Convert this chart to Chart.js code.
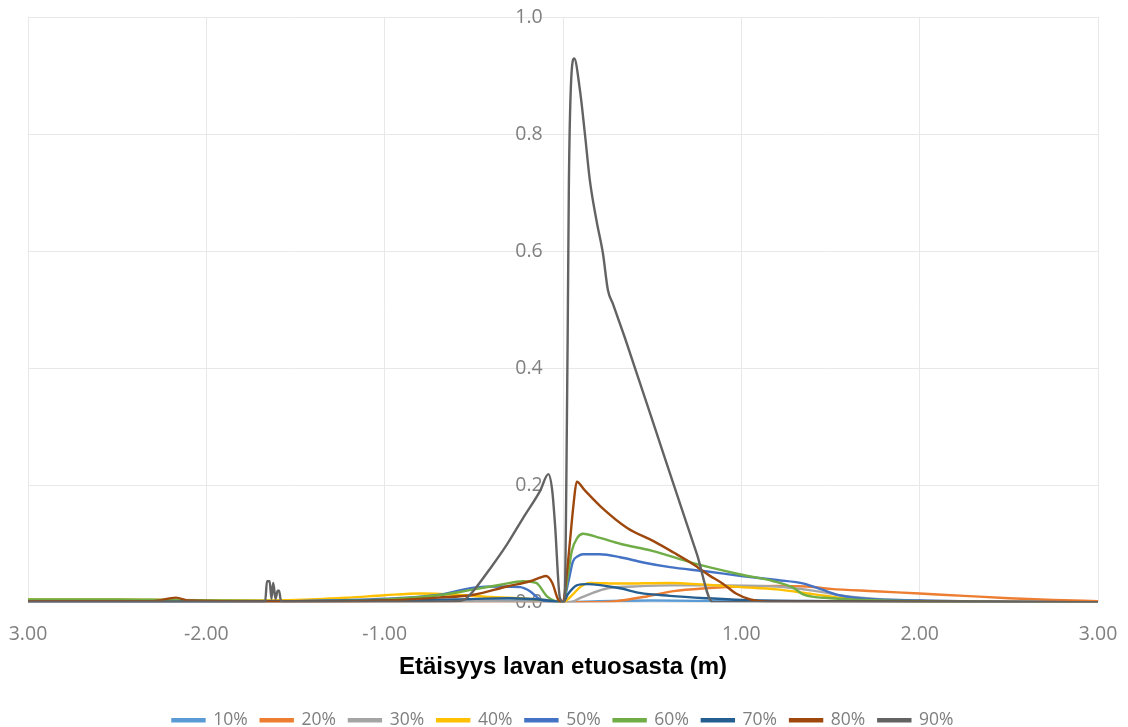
<!DOCTYPE html>
<html>
<head>
<meta charset="utf-8">
<script src="https://cdn.jsdelivr.net/npm/chart.js@4/dist/chart.umd.min.js"></script>
<style>
  html, body { margin: 0; padding: 0; background: #ffffff; overflow: hidden; width: 1128px; height: 727px; }
  #wrap { position: absolute; left: 0; top: 0; width: 1128px; height: 739px; }
</style>
</head>
<body>
<div id="wrap"><canvas id="c"></canvas></div>
<script>
// ---- data ----
const seriesNames = ['10%', '20%', '30%', '40%', '50%', '60%', '70%', '80%', '90%'];
const seriesColors = ['#5B9BD5', '#ED7D31', '#A5A5A5', '#FFC000', '#4472C4', '#70AD47', '#255E91', '#9E480E', '#636363'];
const xTickValues = [-3, -2, -1, 0, 1, 2, 3];
const xTickLabels = ['3.00', '-2.00', '-1.00', '', '1.00', '2.00', '3.00'];
const yTickLabels = ['0.0', '0.2', '0.4', '0.6', '0.8', '1.0'];
const xAxisTitle = 'Etäisyys lavan etuosasta (m)';

const x10 = [-3, -2.5, -2.2, -1.5, -1.0, -0.5, -0.2, 0, 0.2, 0.5, 1.0, 1.5, 2.0, 2.5, 3.0];
const y10 = [0.002, 0.002, 0.001, 0.001, 0.001, 0.002, 0.003, 0, 0.002, 0.003, 0.002, 0.002, 0.001, 0.001, 0.001];

const x20 = [-3, -2.5, -2.1, -1.7, -1.0, -0.5, 0, 0.2, 0.3, 0.45, 0.62, 0.8, 1.0, 1.2, 1.37, 1.5, 1.75, 2.0, 2.25, 2.5, 2.75, 3.0];
const y20 = [0.001, 0.001, 0.0, 0.0, 0.001, 0.001, 0, 0, 0.002, 0.009, 0.019, 0.024, 0.027, 0.028, 0.027, 0.023, 0.019, 0.015, 0.011, 0.007, 0.004, 0.002];

const x30 = [-3, -2.5, -2.2, -1.5, -1.0, -0.5, 0, 0.05, 0.095, 0.15, 0.25, 0.4, 0.6, 0.9, 1.2, 1.4, 1.6, 1.8, 2.0, 2.5, 3.0];
const y30 = [0.004, 0.004, 0.004, 0.002, 0.002, 0.002, 0, 0.001, 0.007, 0.014, 0.024, 0.027, 0.029, 0.029, 0.027, 0.02, 0.01, 0.005, 0.003, 0.001, 0.0];

const x40 = [-3, -2.5, -2.0, -1.5, -1.2, -1.0, -0.8, -0.6, -0.4, -0.2, -0.05, 0, 0.05, 0.1, 0.151, 0.32, 0.6, 0.8, 1.0, 1.2, 1.4, 1.6, 1.8, 2.0, 3.0];
const y40 = [0.005, 0.005, 0.003, 0.004, 0.008, 0.012, 0.015, 0.013, 0.009, 0.006, 0.002, 0, 0.012, 0.027, 0.033, 0.032, 0.033, 0.03, 0.026, 0.022, 0.014, 0.006, 0.002, 0.001, 0];

const x50 = [-3, -2, -1.5, -1.0, -0.69, -0.5, -0.35, -0.24, -0.185, -0.129, -0.06, 0, 0.03, 0.056, 0.085, 0.112, 0.207, 0.32, 0.45, 0.6, 0.8, 1.0, 1.2, 1.35, 1.45, 1.55, 1.7, 2.0, 2.5, 3.0];
const y50 = [0.001, 0.001, 0.002, 0.006, 0.013, 0.025, 0.027, 0.026, 0.019, 0.005, 0.001, 0, 0.035, 0.07, 0.079, 0.082, 0.082, 0.077, 0.068, 0.06, 0.053, 0.045, 0.038, 0.032, 0.022, 0.012, 0.006, 0.003, 0.001, 0];

const x60 = [-3, -2.5, -2.2, -1.5, -1.0, -0.7, -0.5, -0.35, -0.224, -0.15, -0.09, -0.05, 0, 0.025, 0.049, 0.08, 0.112, 0.207, 0.32, 0.5, 0.73, 0.99, 1.18, 1.29, 1.35, 1.5, 1.8, 2.2, 3.0];
const y60 = [0.005, 0.005, 0.004, 0.002, 0.005, 0.012, 0.022, 0.03, 0.036, 0.033, 0.01, 0.003, 0, 0.04, 0.087, 0.11, 0.117, 0.11, 0.1, 0.088, 0.067, 0.048, 0.036, 0.025, 0.013, 0.007, 0.003, 0.001, 0];

const x70 = [-3, -2.2, -1.5, -1.0, -0.6, -0.3, -0.1, 0, 0.03, 0.077, 0.134, 0.32, 0.43, 0.6, 0.8, 1.0, 1.5, 2.0, 3.0];
const y70 = [0.001, 0.001, 0.002, 0.003, 0.005, 0.007, 0.004, 0, 0.015, 0.029, 0.031, 0.024, 0.016, 0.011, 0.007, 0.004, 0.002, 0.001, 0];

const x80 = [-3, -2.3, -2.17, -2.1, -1.5, -1.0, -0.7, -0.5, -0.314, -0.185, -0.13, -0.095, -0.06, -0.028, 0, 0.02, 0.039, 0.06, 0.077, 0.12, 0.21, 0.36, 0.51, 0.62, 0.73, 0.82, 0.9, 0.97, 1.05, 1.15, 1.5, 2.0, 3.0];
const y80 = [0.002, 0.002, 0.008, 0.003, 0.001, 0.003, 0.008, 0.013, 0.027, 0.036, 0.042, 0.045, 0.033, 0.005, 0, 0.045, 0.104, 0.17, 0.206, 0.192, 0.164, 0.127, 0.104, 0.085, 0.065, 0.046, 0.031, 0.015, 0.005, 0.001, 0.001, 0.001, 0];

const x90 = [-3, -2.2, -1.67, -1.66, -1.645, -1.635, -1.625, -1.612, -1.6, -1.592, -1.582, -1.56, -1.0, -0.6, -0.55, -0.504, -0.41, -0.314, -0.224, -0.129, -0.082, -0.06, -0.045, -0.017, 0.008, 0.026, 0.033, 0.045, 0.063, 0.095, 0.123, 0.151, 0.188, 0.224, 0.252, 0.28, 0.347, 0.5, 0.65, 0.75, 0.84, 1.0, 2.0, 3.0];
const y90 = [0.001, 0.001, 0.001, 0.036, 0.036, 0.006, 0.033, 0.006, 0.02, 0.02, 0.003, 0.001, 0.001, 0.002, 0.005, 0.019, 0.057, 0.099, 0.144, 0.19, 0.219, 0.19, 0.134, 0.007, 0, 0.447, 0.716, 0.887, 0.929, 0.875, 0.80, 0.72, 0.652, 0.596, 0.533, 0.51, 0.452, 0.312, 0.174, 0.083, 0, 0, 0, 0];

const xSeries = [x10, x20, x30, x40, x50, x60, x70, x80, x90];
const ySeries = [y10, y20, y30, y40, y50, y60, y70, y80, y90];

// ---- chart ----
const datasets = seriesNames.map((name, i) => ({
  label: name,
  data: xSeries[i].map((x, k) => ({ x: x, y: ySeries[i][k] })),
  borderColor: seriesColors[i],
  backgroundColor: seriesColors[i],
  borderWidth: 2.4,
  pointRadius: 0,
  pointHoverRadius: 0,
  cubicInterpolationMode: 'monotone',
  fill: false,
  order: seriesNames.length - i
}));

const tickFont = { family: '"Open Sans", sans-serif', size: 19.5 };

new Chart(document.getElementById('c'), {
  type: 'line',
  data: { datasets: datasets },
  options: {
    responsive: true,
    maintainAspectRatio: false,
    animation: false,
    devicePixelRatio: 1,
    layout: { padding: { left: 28, right: 30, top: 17, bottom: 0 } },
    plugins: {
      tooltip: { enabled: false },
      legend: {
        position: 'bottom',
        labels: {
          sort: (a, b) => a.datasetIndex - b.datasetIndex,
          boxWidth: 32,
          boxHeight: 2,
          padding: 13,
          color: '#7f7f7f',
          font: { family: '"Open Sans", sans-serif', size: 17.5 }
        }
      }
    },
    scales: {
      x: {
        type: 'linear',
        min: -3,
        max: 3,
        afterBuildTicks: (scale) => { scale.ticks = xTickValues.map(v => ({ value: v })); },
        afterFit: (scale) => { scale.paddingLeft = 0; scale.paddingRight = 0; },
        ticks: {
          autoSkip: false,
          maxRotation: 0,
          padding: 20,
          color: '#808080',
          font: tickFont,
          callback: (v) => xTickLabels[xTickValues.indexOf(v)]
        },
        grid: { color: '#e8e8e8', lineWidth: 1, drawTicks: false },
        border: { display: false },
        title: {
          display: true,
          text: xAxisTitle,
          color: '#000000',
          font: { family: '"Liberation Sans", Arial, sans-serif', size: 24, weight: 'bold' },
          padding: { top: -13, bottom: 17 }
        }
      },
      y: {
        type: 'linear',
        position: { x: 0 },
        min: 0,
        max: 1,
        afterFit: (scale) => { scale.paddingTop = 0; scale.paddingBottom = 0; },
        ticks: {
          stepSize: 0.2,
          color: '#808080',
          font: tickFont,
          callback: (v) => yTickLabels[Math.round(v / 0.2)] + '    '
        },
        grid: { color: '#e8e8e8', lineWidth: 1, drawTicks: false },
        border: { display: false }
      }
    }
  }
});
</script>
</body>
</html>
